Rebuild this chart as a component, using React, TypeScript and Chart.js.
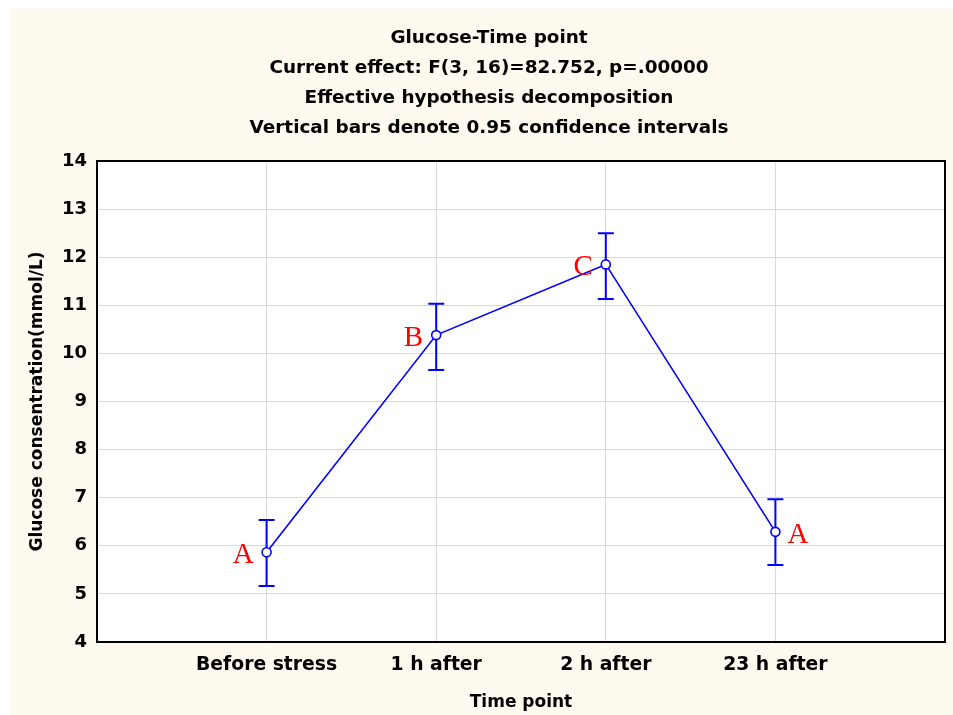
import React, { useEffect, useRef } from "react";
import { Chart, registerables } from "chart.js";

Chart.register(...registerables);

const categories = ["Before stress", "1 h after", "2 h after", "23 h after"];
const means = [5.865, 10.38, 11.85, 6.29];
const upper = [6.536, 11.03, 12.5, 6.97];
const lower = [5.164, 9.655, 11.13, 5.6];
const groupLetters = ["A", "B", "C", "A"];
const letterSides = ["left", "left", "left", "right"];
const titleLines = [
  "Glucose-Time point",
  "Current effect: F(3, 16)=82.752, p=.00000",
  "Effective hypothesis decomposition",
  "Vertical bars denote 0.95 confidence intervals",
];
const xTitle = "Time point";
const yTitle = "Glucose consentration(mmol/L)";
const yMin = 4;
const yMax = 14;

const BLUE = "#0000FF";
const FONT = "'DejaVu Sans', sans-serif";

const decorPlugin = {
  id: "decor",
  beforeDraw(chart: any) {
    const ctx = chart.ctx;
    const area = chart.chartArea;
    ctx.save();
    ctx.fillStyle = "#FEFAF0";
    ctx.fillRect(0, 0, chart.width, chart.height);
    ctx.fillStyle = "#FFFFFF";
    ctx.fillRect(area.left, area.top, area.right - area.left, area.bottom - area.top);
    ctx.restore();
  },
  beforeDatasetsDraw(chart: any) {
    const ctx = chart.ctx;
    const xs = chart.scales.x;
    const ys = chart.scales.y;
    ctx.save();
    ctx.strokeStyle = BLUE;
    ctx.lineWidth = 2;
    for (let i = 0; i < means.length; i++) {
      const x = xs.getPixelForValue(i + 1);
      const yt = ys.getPixelForValue(upper[i]);
      const yb = ys.getPixelForValue(lower[i]);
      ctx.beginPath();
      ctx.moveTo(x, yt);
      ctx.lineTo(x, yb);
      ctx.moveTo(x - 8, yt);
      ctx.lineTo(x + 8, yt);
      ctx.moveTo(x - 8, yb);
      ctx.lineTo(x + 8, yb);
      ctx.stroke();
    }
    ctx.restore();
  },
  afterDraw(chart: any) {
    const ctx = chart.ctx;
    const xs = chart.scales.x;
    const ys = chart.scales.y;
    const area = chart.chartArea;
    ctx.save();
    ctx.strokeStyle = "#000";
    ctx.lineWidth = 2;
    ctx.strokeRect(area.left, area.top, area.right - area.left, area.bottom - area.top);
    ctx.fillStyle = "#FF0000";
    ctx.font = "29px 'Liberation Serif', 'DejaVu Serif', serif";
    ctx.textBaseline = "middle";
    for (let i = 0; i < groupLetters.length; i++) {
      const x = xs.getPixelForValue(i + 1);
      const y = ys.getPixelForValue(means[i]);
      if (letterSides[i] === "left") {
        ctx.textAlign = "right";
        ctx.fillText(groupLetters[i], x - 13, y + 3);
      } else {
        ctx.textAlign = "left";
        ctx.fillText(groupLetters[i], x + 12, y + 4);
      }
    }
    ctx.fillStyle = "#000";
    ctx.textAlign = "center";
    ctx.textBaseline = "middle";
    ctx.font = `bold 18.4px ${FONT}`;
    titleLines.forEach((t, i) => ctx.fillText(t, 479, 30 + i * 30));
    ctx.font = `bold 17px ${FONT}`;
    ctx.fillText(xTitle, (area.left + area.right) / 2, 695);
    ctx.save();
    ctx.translate(28, (area.top + area.bottom) / 2);
    ctx.rotate(-Math.PI / 2);
    ctx.font = `bold 17px ${FONT}`;
    ctx.fillText(yTitle, 0, 0);
    ctx.restore();
    ctx.restore();
  },
};

export default function App() {
  const ref = useRef<HTMLCanvasElement>(null);
  useEffect(() => {
    document.documentElement.style.overflow = "hidden";
    document.body.style.overflow = "hidden";
    if (!ref.current) return;
    const chart = new Chart(ref.current, {
      type: "line",
      data: {
        datasets: [
          {
            data: means.map((v, i) => ({ x: i + 1, y: v })),
            borderColor: BLUE,
            borderWidth: 1.6,
            pointRadius: 4.5,
            pointBorderWidth: 1.6,
            pointBackgroundColor: "#FFFFFF",
            pointBorderColor: BLUE,
            tension: 0,
          },
        ],
      },
      options: {
        responsive: false,
        animation: false,
        layout: { padding: { top: 153, right: 8, left: 0, bottom: 0 } },
        plugins: { legend: { display: false }, tooltip: { enabled: false }, title: { display: false } },
        scales: {
          x: {
            type: "linear",
            min: 0,
            max: categories.length + 1,
            afterFit: (s: any) => {
              s.height = 73;
            },
            afterBuildTicks: (s: any) => {
              s.ticks = categories.map((_, i) => ({ value: i + 1 }));
            },
            ticks: {
              callback: (v: any) => categories[Number(v) - 1] ?? "",
              color: "#000",
              font: { family: FONT, size: 18.8, weight: "bold" },
              padding: 12,
              maxRotation: 0,
              autoSkip: false,
            },
            grid: { color: "#DADADA", lineWidth: 1, drawTicks: false },
            border: { display: false },
          },
          y: {
            min: yMin,
            max: yMax,
            afterFit: (s: any) => {
              s.width = 87;
            },
            ticks: {
              stepSize: 1,
              color: "#000",
              font: { family: FONT, size: 18, weight: "bold" },
              padding: 10,
            },
            grid: { color: "#DADADA", lineWidth: 1, drawTicks: false },
            border: { display: false },
          },
        },
      },
      plugins: [decorPlugin],
    } as any);
    return () => chart.destroy();
  }, []);
  return (
    <canvas
      ref={ref}
      width={943}
      height={707}
      style={{ display: "block", position: "fixed", left: 10, top: 8, width: 943, height: 707 }}
    />
  );
}
